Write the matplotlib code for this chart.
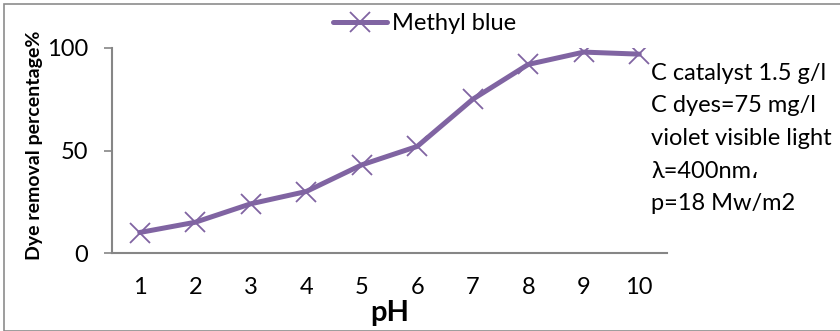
import matplotlib
matplotlib.use("Agg")
import matplotlib.pyplot as plt
from matplotlib.patches import Rectangle

ph_values = [1, 2, 3, 4, 5, 6, 7, 8, 9, 10]
removal_pct = [10, 15, 24, 30, 43, 52, 75, 92, 98, 97]
y_ticks = [0, 50, 100]
series_name = "Methyl blue"
conditions = ["C catalyst 1.5 g/l", "C dyes=75 mg/l", "violet visible light",
              "λ=400nm،", "p=18 Mw/m2"]

plt.rcParams["font.family"] = ["Lato", "DejaVu Sans"]
purple = "#8064A2"
axis_gray = "#868686"

fig = plt.figure(figsize=(8.4, 3.31), dpi=100)
W, H = 840, 331
ax = fig.add_axes([112 / W, 1 - 253 / H, (667 - 112) / W, (253 - 48) / H])

line, = ax.plot(ph_values, removal_pct, color=purple, lw=3.6, marker="x",
                ms=14, mew=1.3, mec=purple, solid_capstyle="round",
                label=series_name)

ax.set_xlim(0.5, 10.5)
ax.set_ylim(0, 100)
ax.set_yticks(y_ticks)
ax.set_xticks(ph_values)
ax.tick_params(axis="y", length=6, width=1.2, color=axis_gray, labelsize=17,
               pad=11)
ax.tick_params(axis="x", length=0, labelsize=17, pad=17)
for side in ("top", "right"):
    ax.spines[side].set_visible(False)
for side in ("left", "bottom"):
    ax.spines[side].set_color(axis_gray)
    ax.spines[side].set_linewidth(1.5)

# axis titles
fig.text(390 / W, 1 - 313 / H, "pH", fontsize=21, fontweight="bold",
         ha="center", va="center")
fig.text(35 / W, 1 - 145 / H, "Dye removal percentage%", rotation=90,
         fontsize=14, fontweight="bold", ha="center", va="center")

leg = fig.legend(handles=[line], loc="center left",
                 bbox_to_anchor=(333 / W, 1 - 24 / H), frameon=False,
                 fontsize=17, handlelength=2.3, handletextpad=0.2,
                 borderaxespad=0, borderpad=0)

for i, txt in enumerate(conditions):
    fig.text(651 / W, 1 - (73 + i * 32.7) / H, txt, fontsize=17,
             ha="left", va="center")

fig.patches.append(Rectangle((4 / W, 0), 1, 1 - 4 / H, transform=fig.transFigure,
                             fill=False, edgecolor="#8c8c8c", lw=1.2))

fig.savefig("out.png", dpi=100)
